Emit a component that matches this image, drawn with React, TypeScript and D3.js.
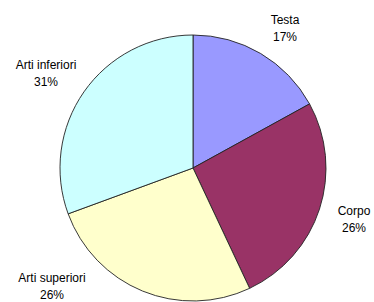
import React from "react";
import * as d3 from "d3";

const categories = ["Testa", "Corpo", "Arti superiori", "Arti inferiori"];
const values = [17, 26, 26.4, 30.6];
const colors = ["#9999FF", "#993366", "#FFFFCC", "#CCFFFF"];

// label centers (layout, not data)
const labelCenters: [number, number][] = [
  [285, 29],
  [354, 220],
  [52, 287],
  [46, 74],
];

export default function App() {
  const W = 374, H = 302;
  const cx = 193, cy = 168, r = 133;
  const total = d3.sum(values);
  const pie = d3.pie<number>().sort(null).value((d) => d)(values);
  const arc = d3.arc<d3.PieArcDatum<number>>().innerRadius(0).outerRadius(r);
  return (
    <svg width={W} height={H} style={{ position: "absolute", left: 0, top: 0 }}>
      <rect width={W} height={H} fill="#fff" />
      <g transform={`translate(${cx},${cy})`}>
        {pie.map((p, i) => (
          <path key={i} d={arc(p) || ""} fill={colors[i]} stroke="#222" strokeWidth={0.9} strokeLinejoin="round" />
        ))}
      </g>
      {categories.map((c, i) => {
        const [x, y] = labelCenters[i];
        const pct = Math.round((values[i] / total) * 100) + "%";
        return (
          <text key={c} x={x} textAnchor="middle" fontFamily="'Liberation Sans', Arial, sans-serif" fontSize={12} fill="#000">
            <tspan x={x} y={y - 5}>{c}</tspan>
            <tspan x={x} y={y + 12}>{pct}</tspan>
          </text>
        );
      })}
    </svg>
  );
}
